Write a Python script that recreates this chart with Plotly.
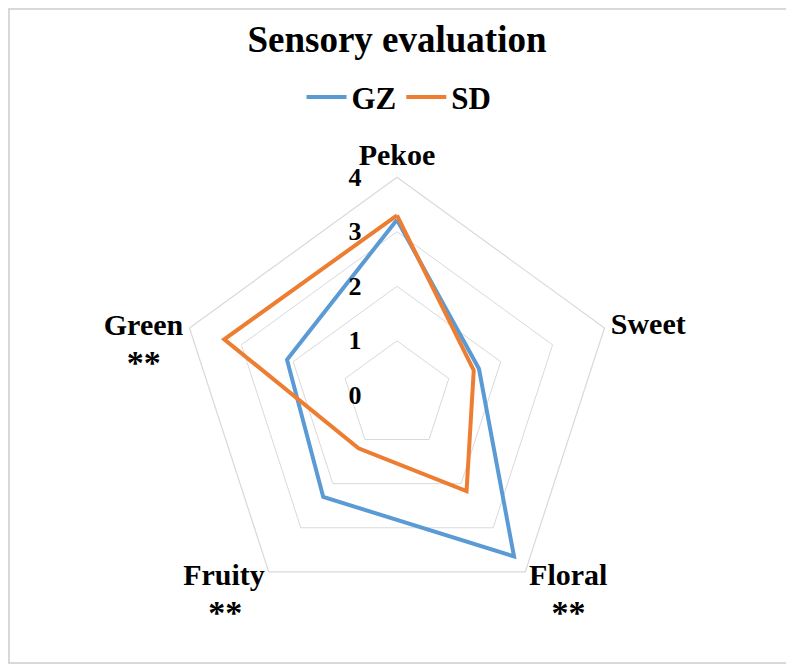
import plotly.graph_objects as go

categories = ["Pekoe", "Sweet", "Floral", "Fruity", "Green"]
NB = "\u00a0"
STARS = "<span style='font-size:34px'>**</span>"
PAD_LINES = ("<br>" + NB) * 5
category_labels = [
    "Pekoe",
    "Sweet",
    "Floral<br>" + NB * 3 + STARS + PAD_LINES,
    "Fruity<br>" + STARS + NB * 3 + PAD_LINES,
    NB + "<br>" + NB + "<br>Green<br>" + STARS + NB * 3,
]
gz_values = [3.22, 1.58, 3.65, 2.3, 2.12]
sd_values = [3.3, 1.48, 2.17, 1.2, 3.33]
radial_ticks = [0, 1, 2, 3, 4]

FONT = "Liberation Serif"
BLUE = "#5B9BD5"
ORANGE = "#ED7D31"
GRID = "#D9D9D9"

fig = go.Figure()
for name, vals, col in [("GZ", gz_values, BLUE), ("SD", sd_values, ORANGE)]:
    fig.add_trace(go.Scatterpolar(
        r=vals + vals[:1],
        theta=categories + categories[:1],
        mode="lines",
        name=name,
        line=dict(color=col, width=4),
    ))

fig.update_layout(
    width=794, height=667,
    margin=dict(l=0, r=0, t=0, b=0),
    paper_bgcolor="white",
    font=dict(family=FONT, color="black"),
    title=dict(
        text="<b>Sensory evaluation</b>",
        font=dict(family=FONT, size=37, color="black"),
        x=389 / 794, xanchor="center", xref="paper",
        y=0.953, yanchor="middle", yref="container",
    ),
    showlegend=True,
    legend=dict(
        orientation="h",
        x=391 / 794, xanchor="center",
        y=0.866, yanchor="middle",
        font=dict(family=FONT, size=31, color="black", weight="bold"),
        itemwidth=40,
        bgcolor="rgba(0,0,0,0)",
    ),
    polar=dict(
        domain=dict(x=[0.2151, 0.7647], y=[0.0921, 0.7463]),
        gridshape="linear",
        bgcolor="white",
        angularaxis=dict(
            direction="clockwise",
            rotation=90,
            categoryorder="array",
            categoryarray=categories,
            tickmode="array",
            tickvals=categories,
            ticktext=category_labels,
            showgrid=False,
            showline=True,
            linecolor=GRID,
            linewidth=1.2,
            ticks="",
            tickfont=dict(family=FONT, size=30, color="black", weight="bold"),
        ),
        radialaxis=dict(
            range=[0, 4],
            angle=90,
            tickangle=90,
            side="counterclockwise",
            tickmode="array",
            tickvals=radial_ticks,
            ticktext=[str(v) for v in radial_ticks],
            showline=False,
            showgrid=True,
            gridcolor=GRID,
            gridwidth=1.2,
            ticks="outside",
            ticklen=26,
            tickcolor="rgba(0,0,0,0)",
            tickfont=dict(family=FONT, size=26, color="black", weight="bold"),
        ),
    ),
    shapes=[dict(
        type="rect", xref="paper", yref="paper",
        x0=1 / 794, x1=783 / 794, y0=12 / 667, y1=666 / 667,
        line=dict(color="#D9D9D9", width=2), fillcolor="rgba(0,0,0,0)",
        layer="below",
    )],
)

fig.write_html("out.html")
